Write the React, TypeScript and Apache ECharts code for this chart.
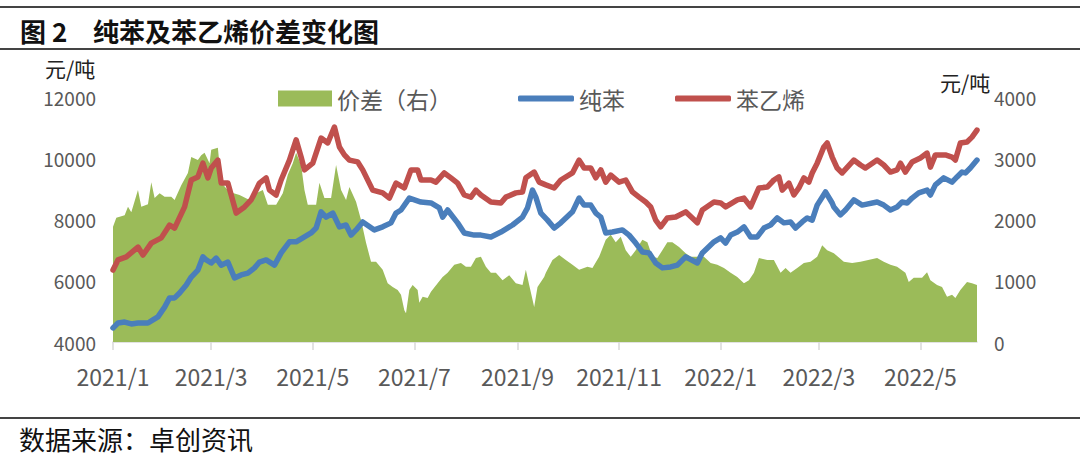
import React, { useEffect, useRef } from "react";
import * as echarts from "echarts";

const titleNo = "图 2";
const titleText = "纯苯及苯乙烯价差变化图";
const sourceText = "数据来源：卓创资讯";
const unitText = "元/吨";
const legendNames = ["价差（右）", "纯苯", "苯乙烯"];
const xTickDates = [
  "2021-01-04", "2021-03-04", "2021-05-04", "2021-07-04", "2021-09-04",
  "2021-11-04", "2022-01-04", "2022-03-04", "2022-05-04",
];
const xMin = "2021-01-04";
const xMax = "2022-06-07";

const styrene: [string, number][] = [
  ["2021-01-04",6350],["2021-01-07",6680],["2021-01-12",6780],["2021-01-19",7100],["2021-01-22",6840],["2021-01-27",7230],
  ["2021-02-02",7400],["2021-02-07",7820],["2021-02-10",7720],["2021-02-16",8410],["2021-02-20",9290],["2021-02-24",9390],
  ["2021-02-27",9840],["2021-03-02",9360],["2021-03-04",9680],["2021-03-08",9940],["2021-03-10",9190],["2021-03-14",9190],
  ["2021-03-19",8210],["2021-03-24",8410],["2021-03-28",8640],["2021-04-02",9190],["2021-04-06",9360],["2021-04-08",8960],
  ["2021-04-12",8800],["2021-04-15",9290],["2021-04-20",9940],["2021-04-24",10600],["2021-04-27",10040],["2021-04-29",9620],
  ["2021-05-04",9840],["2021-05-09",10660],["2021-05-13",10500],["2021-05-17",11020],["2021-05-20",10370],["2021-05-23",10110],
  ["2021-05-26",9940],["2021-05-31",9880],["2021-06-03",9620],["2021-06-09",8960],["2021-06-15",8870],["2021-06-19",8700],
  ["2021-06-23",9190],["2021-06-28",9030],["2021-07-02",9620],["2021-07-06",9620],["2021-07-08",9290],["2021-07-14",9290],
  ["2021-07-17",9220],["2021-07-22",9520],["2021-07-26",9360],["2021-07-30",9190],["2021-08-03",8800],["2021-08-07",8730],
  ["2021-08-10",8960],["2021-08-13",8800],["2021-08-19",8570],["2021-08-25",8540],["2021-08-28",8730],["2021-09-03",8870],
  ["2021-09-07",8900],["2021-09-09",9360],["2021-09-14",9550],["2021-09-17",9220],["2021-09-21",9130],["2021-09-26",9030],
  ["2021-09-30",9290],["2021-10-07",9520],["2021-10-11",9940],["2021-10-14",9680],["2021-10-18",9680],["2021-10-21",9360],
  ["2021-10-24",9620],["2021-10-27",9220],["2021-10-30",9450],["2021-11-04",9220],["2021-11-08",9290],["2021-11-12",8900],
  ["2021-11-16",8730],["2021-11-20",8570],["2021-11-23",8410],["2021-11-26",7980],["2021-11-29",7760],["2021-12-03",8050],
  ["2021-12-08",8080],["2021-12-14",8250],["2021-12-21",7890],["2021-12-24",8310],["2021-12-31",8570],["2022-01-04",8540],
  ["2022-01-07",8410],["2022-01-14",8640],["2022-01-18",8700],["2022-01-22",8410],["2022-01-27",9030],["2022-02-01",9060],
  ["2022-02-05",9290],["2022-02-08",9390],["2022-02-10",8960],["2022-02-14",9190],["2022-02-17",8800],["2022-02-20",9030],
  ["2022-02-23",9360],["2022-02-26",9220],["2022-02-28",9520],["2022-03-03",9840],["2022-03-07",10370],["2022-03-09",10500],
  ["2022-03-12",10040],["2022-03-15",9680],["2022-03-18",9520],["2022-03-25",9940],["2022-03-29",9780],["2022-04-01",9680],
  ["2022-04-08",9940],["2022-04-12",9780],["2022-04-16",9550],["2022-04-20",9620],["2022-04-22",9840],["2022-04-25",9550],
  ["2022-04-29",9880],["2022-05-04",10010],["2022-05-08",10170],["2022-05-10",9710],["2022-05-13",10110],["2022-05-19",10110],
  ["2022-05-23",10040],["2022-05-25",9940],["2022-05-28",10500],["2022-06-01",10530],["2022-06-04",10690],["2022-06-07",10920],
];

const benzene: [string, number][] = [
  ["2021-01-04",4460],["2021-01-07",4620],["2021-01-11",4650],["2021-01-15",4590],["2021-01-19",4620],["2021-01-25",4620],
  ["2021-01-28",4720],["2021-01-31",4820],["2021-02-04",5140],["2021-02-07",5440],["2021-02-10",5440],["2021-02-13",5600],
  ["2021-02-17",5860],["2021-02-20",6120],["2021-02-24",6350],["2021-02-27",6780],["2021-03-01",6680],["2021-03-04",6580],
  ["2021-03-07",6740],["2021-03-10",6510],["2021-03-14",6610],["2021-03-18",6090],["2021-03-22",6190],["2021-03-26",6250],
  ["2021-03-30",6420],["2021-04-02",6610],["2021-04-06",6680],["2021-04-11",6510],["2021-04-15",6910],["2021-04-20",7270],
  ["2021-04-24",7270],["2021-04-28",7400],["2021-05-03",7560],["2021-05-06",7720],["2021-05-09",8250],["2021-05-12",8080],
  ["2021-05-16",8210],["2021-05-20",7760],["2021-05-24",7820],["2021-05-27",7490],["2021-05-30",7660],["2021-06-03",7920],
  ["2021-06-10",7660],["2021-06-15",7760],["2021-06-20",7890],["2021-06-23",8210],["2021-06-26",8310],["2021-07-01",8700],
  ["2021-07-08",8570],["2021-07-14",8540],["2021-07-19",8380],["2021-07-21",8080],["2021-07-24",8310],["2021-07-30",7890],
  ["2021-08-03",7560],["2021-08-09",7490],["2021-08-13",7490],["2021-08-19",7430],["2021-08-25",7590],["2021-09-01",7820],
  ["2021-09-07",8080],["2021-09-10",8380],["2021-09-13",8960],["2021-09-15",8730],["2021-09-18",8210],["2021-09-22",7980],
  ["2021-09-26",7720],["2021-09-30",7890],["2021-10-07",8250],["2021-10-11",8700],["2021-10-14",8470],["2021-10-18",8470],
  ["2021-10-21",8210],["2021-10-24",8080],["2021-10-27",7560],["2021-10-31",7590],["2021-11-06",7660],["2021-11-10",7490],
  ["2021-11-14",7230],["2021-11-18",6940],["2021-11-22",6910],["2021-11-26",6580],["2021-11-30",6420],["2021-12-05",6450],
  ["2021-12-09",6510],["2021-12-14",6780],["2021-12-21",6580],["2021-12-24",6910],["2021-12-31",7270],["2022-01-04",7400],
  ["2022-01-07",7230],["2022-01-10",7490],["2022-01-14",7590],["2022-01-18",7760],["2022-01-22",7430],["2022-01-26",7430],
  ["2022-01-30",7720],["2022-02-03",7820],["2022-02-07",8050],["2022-02-11",7890],["2022-02-15",7920],["2022-02-18",7720],
  ["2022-02-22",7920],["2022-02-25",8050],["2022-02-28",7980],["2022-03-03",8470],["2022-03-08",8900],["2022-03-12",8540],
  ["2022-03-13",8410],["2022-03-17",8150],["2022-03-20",8310],["2022-03-25",8640],["2022-03-30",8470],["2022-04-08",8570],
  ["2022-04-12",8470],["2022-04-16",8310],["2022-04-20",8410],["2022-04-23",8570],["2022-04-26",8540],["2022-04-29",8700],
  ["2022-05-03",8870],["2022-05-08",8960],["2022-05-10",8800],["2022-05-13",9130],["2022-05-18",9360],["2022-05-23",9220],
  ["2022-05-26",9390],["2022-05-29",9550],["2022-05-31",9520],["2022-06-03",9680],["2022-06-07",9940],
];

const spread: [string, number][] = [
  ["2021-01-04",1880],["2021-01-06",2030],["2021-01-11",2070],["2021-01-13",2210],["2021-01-15",2120],["2021-01-19",2480],
  ["2021-01-21",2210],["2021-01-25",2250],["2021-01-27",2610],["2021-01-29",2350],["2021-02-01",2430],["2021-02-04",2370],
  ["2021-02-08",2370],["2021-02-10",2320],["2021-02-14",2560],["2021-02-18",2760],["2021-02-20",3020],["2021-02-24",2970],
  ["2021-02-26",3050],["2021-02-28",3090],["2021-03-03",2920],["2021-03-04",3140],["2021-03-08",3170],["2021-03-10",2600],
  ["2021-03-15",2450],["2021-03-21",2400],["2021-03-27",2320],["2021-03-31",2430],["2021-04-04",2480],["2021-04-07",2240],
  ["2021-04-12",2240],["2021-04-16",2430],["2021-04-19",2730],["2021-04-22",2920],["2021-04-24",3090],["2021-04-27",2890],
  ["2021-04-29",2480],["2021-05-01",2240],["2021-05-06",2240],["2021-05-08",2600],["2021-05-11",2350],["2021-05-15",2350],
  ["2021-05-18",2890],["2021-05-21",2480],["2021-05-24",2320],["2021-05-26",2530],["2021-05-30",2290],["2021-06-02",1990],
  ["2021-06-05",1620],["2021-06-08",1310],["2021-06-11",1310],["2021-06-15",1180],["2021-06-18",960],["2021-06-21",900],
  ["2021-06-24",850],["2021-06-26",770],["2021-06-28",520],["2021-06-29",470],["2021-07-01",850],["2021-07-03",930],
  ["2021-07-06",850],["2021-07-07",640],["2021-07-09",740],["2021-07-12",720],["2021-07-14",820],["2021-07-18",960],
  ["2021-07-21",1060],["2021-07-24",1130],["2021-07-28",1260],["2021-08-01",1290],["2021-08-04",1230],["2021-08-07",1230],
  ["2021-08-10",1370],["2021-08-13",1390],["2021-08-16",1230],["2021-08-19",1130],["2021-08-22",1130],["2021-08-26",1010],
  ["2021-08-30",1090],["2021-09-03",960],["2021-09-07",930],["2021-09-09",1180],["2021-09-11",930],["2021-09-14",570],
  ["2021-09-16",900],["2021-09-20",1060],["2021-09-21",1130],["2021-09-25",1340],["2021-09-29",1420],["2021-10-03",1340],
  ["2021-10-07",1260],["2021-10-11",1180],["2021-10-16",1230],["2021-10-19",1210],["2021-10-23",1390],["2021-10-27",1670],
  ["2021-10-30",1750],["2021-11-02",1630],["2021-11-05",1720],["2021-11-08",1500],["2021-11-11",1390],["2021-11-14",1500],
  ["2021-11-18",1670],["2021-11-21",1630],["2021-11-24",1390],["2021-11-27",1370],["2021-11-30",1500],["2021-12-03",1630],
  ["2021-12-06",1630],["2021-12-10",1550],["2021-12-14",1450],["2021-12-17",1390],["2021-12-25",1390],["2021-12-29",1290],
  ["2022-01-02",1260],["2022-01-06",1210],["2022-01-10",1130],["2022-01-14",1060],["2022-01-18",960],["2022-01-21",1010],
  ["2022-01-24",1130],["2022-01-27",1370],["2022-02-01",1340],["2022-02-05",1340],["2022-02-09",1130],["2022-02-12",1210],
  ["2022-02-15",1130],["2022-02-19",1210],["2022-02-23",1290],["2022-02-27",1310],["2022-03-03",1390],["2022-03-06",1580],
  ["2022-03-09",1500],["2022-03-13",1450],["2022-03-19",1310],["2022-03-24",1290],["2022-03-29",1310],["2022-04-08",1370],
  ["2022-04-12",1310],["2022-04-16",1260],["2022-04-20",1230],["2022-04-25",1130],["2022-04-27",980],["2022-04-30",1050],
  ["2022-05-05",1050],["2022-05-08",1140],["2022-05-10",1010],["2022-05-14",930],["2022-05-17",900],["2022-05-20",740],
  ["2022-05-23",770],["2022-05-25",720],["2022-05-28",850],["2022-06-01",980],["2022-06-04",960],["2022-06-07",930],
];

const toTime = (s: string) => {
  const [y, m, d] = s.split("-").map(Number);
  return new Date(y, m - 1, d).getTime();
};
const toPoints = (arr: [string, number][]) => arr.map(([d, v]) => [toTime(d), v]);

const FONT = "'Noto Sans CJK SC', 'Noto Sans', sans-serif";
const GREEN = "#9bbb59";
const BLUE = "#4a7ebb";
const RED = "#c0504d";
const LABEL = "#595959";

export default function App() {
  const ref = useRef<HTMLDivElement>(null);
  useEffect(() => {
    if (!ref.current) return;
    const chart = echarts.init(ref.current, undefined, { renderer: "svg" });
    const tickVals = xTickDates.map(toTime);
    const plain = (v: number) => String(v);
    chart.setOption({
      animation: false,
      backgroundColor: "#ffffff",
      textStyle: { fontFamily: FONT },
      grid: { left: 113, right: 103, top: 97, bottom: 114, containLabel: false },
      legend: [
        {
          data: [legendNames[0]],
          left: 273,
          top: 82,
          icon: "rect",
          itemWidth: 54,
          itemHeight: 16,
          itemGap: 10,
          textStyle: { fontSize: 23, color: LABEL, fontFamily: FONT },
        },
        {
          data: [legendNames[1], legendNames[2]],
          left: 513,
          top: 82,
          icon: "roundRect",
          itemWidth: 56,
          itemHeight: 6,
          itemGap: 50,
          textStyle: { fontSize: 23, color: LABEL, fontFamily: FONT },
        },
      ],
      xAxis: {
        type: "value",
        min: toTime(xMin),
        max: toTime(xMax),
        axisLine: { show: true, lineStyle: { color: "#d9d9d9", width: 1.5 } },
        axisTick: { show: true, customValues: tickVals, length: 8, lineStyle: { color: "#d9d9d9", width: 1.5 } },
        axisLabel: {
          customValues: tickVals,
          fontSize: 23,
          color: LABEL,
          margin: 22,
          fontFamily: FONT,
          showMinLabel: true,
          showMaxLabel: true,
          hideOverlap: false,
          formatter: (v: number) => {
            const d = new Date(v);
            return `${d.getFullYear()}/${d.getMonth() + 1}`;
          },
        },
        splitLine: { show: false },
      },
      yAxis: [
        {
          type: "value",
          min: 4000,
          max: 12000,
          interval: 2000,
          axisLine: { show: false },
          axisTick: { show: false },
          splitLine: { show: false },
          axisLabel: { fontSize: 19, color: LABEL, margin: 17, fontFamily: FONT, formatter: plain },
        },
        {
          type: "value",
          min: 0,
          max: 4000,
          interval: 1000,
          position: "right",
          axisLine: { show: false },
          axisTick: { show: false },
          splitLine: { show: false },
          axisLabel: { fontSize: 19, color: LABEL, margin: 17, fontFamily: FONT, formatter: plain },
        },
      ],
      series: [
        {
          name: legendNames[0],
          type: "line",
          yAxisIndex: 1,
          data: toPoints(spread),
          symbol: "none",
          lineStyle: { width: 0, color: GREEN },
          itemStyle: { color: GREEN },
          areaStyle: { color: GREEN, opacity: 1 },
          z: 1,
        },
        {
          name: legendNames[1],
          type: "line",
          yAxisIndex: 0,
          data: toPoints(benzene),
          symbol: "none",
          lineStyle: { width: 5.5, color: BLUE, cap: "round", join: "round" },
          itemStyle: { color: BLUE },
          z: 3,
        },
        {
          name: legendNames[2],
          type: "line",
          yAxisIndex: 0,
          data: toPoints(styrene),
          symbol: "none",
          lineStyle: { width: 5.5, color: RED, cap: "round", join: "round" },
          itemStyle: { color: RED },
          z: 4,
        },
      ],
      graphic: [
        { type: "line", shape: { x1: 0, y1: 7, x2: 1080, y2: 7 }, style: { stroke: "#444", lineWidth: 2 } },
        { type: "line", shape: { x1: 0, y1: 49, x2: 1080, y2: 49 }, style: { stroke: "#444", lineWidth: 2 } },
        { type: "line", shape: { x1: 0, y1: 418, x2: 1080, y2: 418 }, style: { stroke: "#444", lineWidth: 2 } },
        {
          type: "text", x: 20, y: 30,
          style: { text: titleNo, font: `bold 26px ${FONT}`, fill: "#111", verticalAlign: "middle" },
        },
        {
          type: "text", x: 93, y: 30,
          style: { text: titleText, font: `bold 26px ${FONT}`, fill: "#111", verticalAlign: "middle" },
        },
        {
          type: "text", x: 19, y: 438,
          style: { text: sourceText, font: `26px ${FONT}`, fill: "#111", verticalAlign: "middle" },
        },
        {
          type: "text", x: 45, y: 68,
          style: { text: unitText, font: `21px ${FONT}`, fill: "#222", verticalAlign: "middle" },
        },
        {
          type: "text", x: 940, y: 82,
          style: { text: unitText, font: `21px ${FONT}`, fill: "#222", verticalAlign: "middle" },
        },
      ],
    });
    return () => chart.dispose();
  }, []);
  return (
    <div
      ref={ref}
      style={{ position: "fixed", left: 0, top: 0, width: 1080, height: 456, background: "#fff" }}
    />
  );
}
